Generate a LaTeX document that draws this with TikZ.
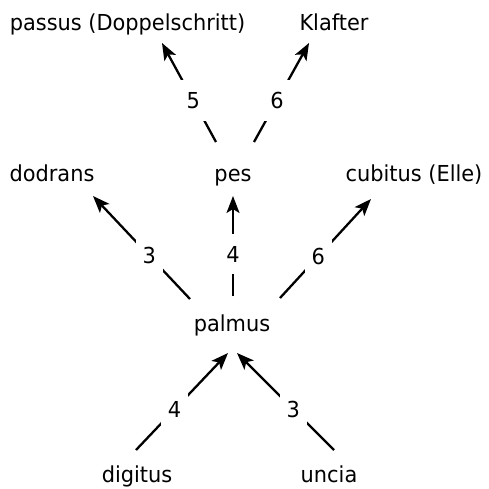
\documentclass[tikz,border=0pt]{standalone}
\usepackage{fontspec}
\setmainfont{DejaVu Sans}[FakeStretch=0.95]
\usetikzlibrary{arrows.meta}
\begin{document}
\begin{tikzpicture}[x=1pt,y=-1pt,
  unit/.style={anchor=base,inner sep=0pt,font=\fontsize{22}{26}\selectfont},
  conn/.style={line width=2.3pt,-{Stealth[length=17pt,width=13pt,inset=4pt]}},
  num/.style={pos=0.42,fill=white,inner xsep=7pt,inner ysep=12pt,font=\fontsize{22}{26}\selectfont}]
\useasboundingbox (0,0) rectangle (489,488);
% units
\node[unit] (passus) at (127.5,30) {passus (Doppelschritt)};
\node[unit] (klafter) at (334,30) {Klafter};
\node[unit] (dodrans) at (52,181) {dodrans};
\node[unit] (pes) at (233,181) {pes};
\node[unit] (cubitus) at (414,181) {cubitus (Elle)};
\node[unit] (palmus) at (232,331) {palmus};
\node[unit] (digitus) at (137,482) {digitus};
\node[unit] (uncia) at (329,482) {uncia};
% connector ends
\coordinate (pesA) at (216,142);
\coordinate (pesB) at (254,142);
\coordinate (passusT) at (162,43);
\coordinate (klafterT) at (309,43);
\coordinate (palA) at (190,299);
\coordinate (palB) at (233,296);
\coordinate (palC) at (280,298);
\coordinate (dodransT) at (93,196);
\coordinate (pesT) at (233,196);
\coordinate (cubitusT) at (371,199);
\coordinate (digitusS) at (136,450);
\coordinate (unciaS) at (334,450);
\coordinate (palT1) at (228,353);
\coordinate (palT2) at (237,353);
% connectors
\draw[conn] (pesA) -- node[num]{5} (passusT);
\draw[conn] (pesB) -- node[num]{6} (klafterT);
\draw[conn] (palA) -- node[num]{3} (dodransT);
\draw[conn] (palB) -- node[num]{4} (pesT);
\draw[conn] (palC) -- node[num]{6} (cubitusT);
\draw[conn] (digitusS) -- node[num]{4} (palT1);
\draw[conn] (unciaS) -- node[num]{3} (palT2);
\end{tikzpicture}
\end{document}
